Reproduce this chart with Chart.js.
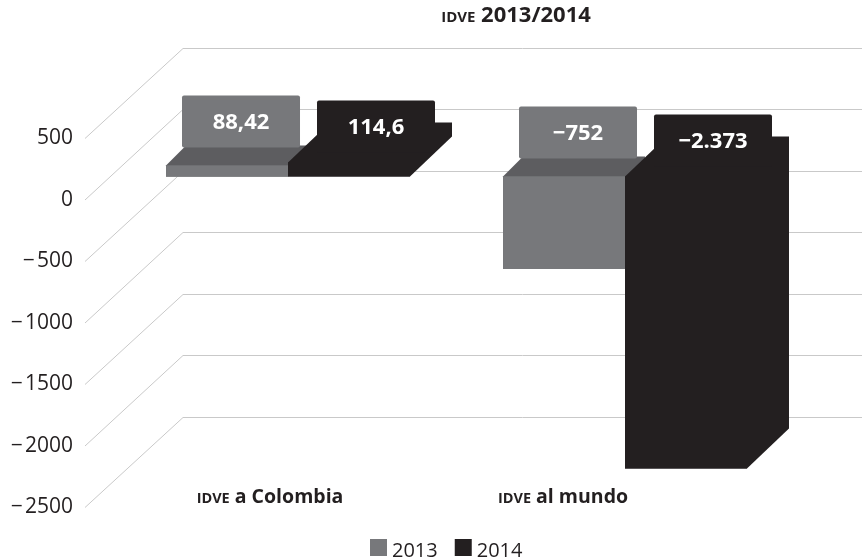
<!DOCTYPE html>
<html>
<head>
<meta charset="utf-8">
<script src="https://cdn.jsdelivr.net/npm/chart.js@4.4.1/dist/chart.umd.min.js"></script>
<style>
  body { margin: 0; background: #fff; }
  canvas { display: block; }
</style>
</head>
<body>
<canvas id="idve-chart" width="862" height="559"></canvas>
<script>
const categories = ["a Colombia", "al mundo"];
const years = ["2013", "2014"];
const values2013 = [88.42, -752];
const values2014 = [114.6, -2373];
const yTicks = [500, 0, -500, -1000, -1500, -2000, -2500];

const INK = "#231f20";
const GREY = "#77787b";
const GREY_DARK = "#5d5d60";
const GRID = "#c9c9c9";
const FONT = "'Open Sans', sans-serif";

// fake 3D: bars sit a bit behind the tick labels, the grid wall further back
const FRONT_DY = 23.5;
const WALL = { x0: 85, x1: 183, dy: -91 };
const depth = [{ dx: 20, dy: -20 }, { dx: 42, dy: -40 }];
const tagShift = [{ dx: -4, dy: -50 }, { dx: -13, dy: -22 }];
const TAG_W = 118, TAG_H = 52;
const catShift = [-18, -62];

function fmtTick(v) {
  return v < 0 ? "\u2212\u200a" + Math.abs(v) : String(v);
}

// 2373 -> "2.373", 88.42 -> "88,42"
function fmtValue(v) {
  const parts = Math.abs(v).toString().split(".");
  const intPart = parts[0].replace(/\B(?=(\d{3})+(?!\d))/g, ".");
  const s = parts[1] ? intPart + "," + parts[1] : intPart;
  return v < 0 ? "\u2212" + s : s;
}

// "IDVE" in small caps followed by normal bold text, centred on cx
function drawIdve(ctx, rest, cx, baseline, big, small) {
  const fSmall = "bold " + small + "px " + FONT;
  const fBig = "bold " + big + "px " + FONT;
  ctx.font = fSmall;
  const w1 = ctx.measureText("IDVE").width;
  ctx.font = fBig;
  const w2 = ctx.measureText(" " + rest).width;
  let x = cx - (w1 + w2) / 2;
  ctx.textAlign = "left";
  ctx.textBaseline = "alphabetic";
  ctx.fillStyle = INK;
  ctx.font = fSmall;
  ctx.fillText("IDVE", x, baseline);
  ctx.font = fBig;
  ctx.fillText(" " + rest, x + w1, baseline);
}

// silhouette of the prism (front + top + right side) in the shade colour;
// the library's bar is the front face painted over it
function drawDepth(chart, d) {
  const { ctx } = chart;
  const ds = chart.data.datasets[d];
  const meta = chart.getDatasetMeta(d);
  const { dx, dy } = depth[d];
  ctx.save();
  meta.data.forEach((bar, i) => {
    const { x, y, base, width } = bar.getProps(["x", "y", "base", "width"], true);
    const l = x - width / 2, r = x + width / 2;
    const top = Math.min(y, base), bot = Math.max(y, base);
    ctx.fillStyle = ds.shade;
    ctx.beginPath();
    ctx.moveTo(l, bot);
    ctx.lineTo(l, top);
    ctx.lineTo(l + dx, top + dy);
    ctx.lineTo(r + dx, top + dy);
    ctx.lineTo(r + dx, bot + dy);
    ctx.lineTo(r, bot);
    ctx.closePath();
    ctx.fill();
    if (ds.shade !== ds.backgroundColor) {
      ctx.fillStyle = ds.backgroundColor;
      ctx.fillRect(l, top, width, bot - top);
    }
    // value tag
    const tx = l + dx + tagShift[d].dx, ty = top + dy + tagShift[d].dy;
    ctx.fillStyle = ds.backgroundColor;
    ctx.beginPath();
    ctx.roundRect(tx, ty, TAG_W, TAG_H, 2);
    ctx.fill();
    ctx.fillStyle = "#fff";
    ctx.font = "bold 22px " + FONT;
    ctx.textAlign = "center";
    ctx.textBaseline = "middle";
    ctx.fillText(fmtValue(ds.data[i]), tx + TAG_W / 2, ty + TAG_H / 2 + 1);
  });
  ctx.restore();
}

const wallGrid = {
  id: "wallGrid",
  beforeDatasetsDraw(chart) {
    const { ctx } = chart;
    const yScale = chart.scales.y;
    ctx.save();
    ctx.strokeStyle = GRID;
    ctx.lineWidth = 1;
    yTicks.forEach(v => {
      const yf = yScale.getPixelForValue(v) + FRONT_DY;
      const yb = Math.round(yf + WALL.dy) + 0.5;
      ctx.beginPath();
      ctx.moveTo(WALL.x0, yf);
      ctx.lineTo(WALL.x1, yb);
      ctx.lineTo(chart.width, yb);
      ctx.stroke();
    });
    ctx.restore();
    // 2013 sits behind the 2014 bars, so its depth goes in first
    drawDepth(chart, 0);
  },
  afterDatasetsDraw(chart) {
    drawDepth(chart, 1);
  },
  afterDraw(chart) {
    const { ctx } = chart;
    const xScale = chart.scales.x;
    ctx.save();
    drawIdve(ctx, "2013/2014", 516, 22, 22, 15);
    categories.forEach((c, i) => {
      drawIdve(ctx, c, xScale.getPixelForValue(i) + catShift[i], 503, 19.5, 14.5);
    });
    // legend
    ctx.font = "20px " + FONT;
    ctx.textBaseline = "alphabetic";
    ctx.textAlign = "left";
    const box = 17, gap = 5, between = 17;
    const widths = years.map(t => box + gap + ctx.measureText(t).width);
    let x = 370;
    chart.data.datasets.forEach((ds, d) => {
      ctx.fillStyle = ds.backgroundColor;
      ctx.fillRect(x, 539, box, box);
      ctx.fillStyle = INK;
      ctx.fillText(years[d], x + box + gap, 557);
      x += widths[d] + between;
    });
    ctx.restore();
  }
};

new Chart(document.getElementById("idve-chart"), {
  type: "bar",
  data: {
    labels: categories,
    datasets: [
      { label: years[0], data: values2013, backgroundColor: GREY, shade: GREY_DARK },
      { label: years[1], data: values2014, backgroundColor: INK, shade: INK }
    ]
  },
  options: {
    responsive: false,
    animation: false,
    layout: { padding: { top: 115, bottom: 75, left: 0, right: 68.5 } },
    datasets: { bar: { categoryPercentage: 0.724, barPercentage: 1, borderWidth: 0 } },
    plugins: {
      legend: { display: false },
      title: { display: false },
      tooltip: { enabled: false }
    },
    scales: {
      x: { display: false, offset: true },
      y: {
        min: -2500,
        max: 500,
        afterFit(scale) { scale.width = 119.5; },
        grid: { display: false, drawTicks: false },
        border: { display: false },
        ticks: {
          stepSize: 500,
          padding: 46.5,
          labelOffset: FRONT_DY,
          color: INK,
          font: { family: FONT, size: 21 },
          callback: fmtTick
        }
      }
    }
  },
  plugins: [wallGrid]
});
</script>
</body>
</html>
